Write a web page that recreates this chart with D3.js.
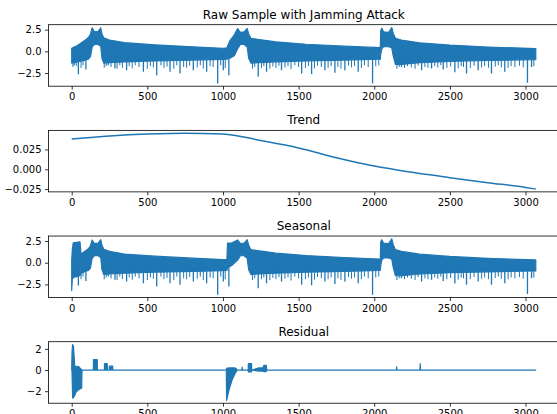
<!DOCTYPE html>
<html>
<head>
<meta charset="utf-8">
<script src="https://cdn.jsdelivr.net/npm/d3@7"></script>
<style>
  body { margin: 0; background: #fff; }
  svg text { font-family: "DejaVu Sans", sans-serif; fill: #000; }
</style>
</head>
<body>
<svg id="chart" width="557" height="414"></svg>
<script>
// x ticks shared by all four panels
const xTicks = [0, 500, 1000, 1500, 2000, 2500, 3000];
const lastSample = 3068;

// Raw sample: dense signal read as its upper/lower envelope at these sample indices
const rawX = [0, 30, 55, 90, 110, 124, 135, 150, 175, 192, 200, 212, 250, 350, 550, 800, 1000, 1025, 1045, 1075,
  1097, 1115, 1140, 1160, 1170, 1185, 1350, 1550, 1800, 2040, 2043, 2050, 2062, 2095, 2116, 2125, 2140, 2180, 2300, 2500,
  2750, 3068];
const rawUpper = [0.35, 0.6, 0.87, 1.3, 1.6, 1.95, 2.72, 2.25, 2.3, 2.72, 2.0, 1.55, 1.3, 1.0, 0.75, 0.52, 0.36, 0.4, 1.2, 1.9,
  2.62, 2.2, 2.25, 2.65, 2.0, 1.5, 1.1, 0.82, 0.6, 0.42, 2.4, 2.65, 2.25, 2.2, 2.75, 2.1, 1.5, 1.3, 0.98, 0.72,
  0.5, 0.32];
const rawLower = [-1.35, -1.25, -1.15, -1.0, -0.9, -0.6, 0.5, 0.8, 0.8, 0.6, -0.8, -1.35, -1.3, -1.2, -1.1, -1.0, -0.92, -0.9, -0.8, -0.5,
  0.3, 0.8, 0.8, 0.5, -0.8, -1.35, -1.2, -1.1, -1.0, -0.9, -0.3, 0.3, 0.55, 0.55, 0.4, -0.5, -1.5, -1.5, -1.3, -1.15,
  -1.05, -0.95];

// long downward spikes below the body (raw and seasonal share them)
const spikeX = [17, 44, 94, 242, 286, 363, 474, 562, 650, 716, 804, 892, 965, 1002, 1039, 1233, 1288, 1387, 1520, 1586,
  1674, 1740, 1806, 1894, 1989, 2180, 2313, 2379, 2456, 2533, 2610, 2687, 2775, 2863, 3013, 3040];
const spikeLow = [-1.6, -2.63, -2.1, -1.6, -1.97, -2.17, -2.36, -2.74, -2.36, -2.55, -2.17, -2.36, -3.69, -2.17, -2.74, -2.93, -2.36, -2.17, -2.55, -2.6,
  -2.17, -2.45, -2.17, -2.36, -3.69, -1.8, -2.17, -1.97, -2.1, -2.4, -2.55, -2.17, -2.55, -2.36, -3.61, -1.8];

// shorter spikes making the ragged lower fringe
const fringeX = [8, 30, 62, 75, 215, 228, 260, 300, 318, 335, 380, 400, 420, 445, 500, 520, 540, 590, 610, 630,
  675, 695, 740, 760, 780, 830, 850, 870, 915, 935, 985, 1015, 1195, 1210, 1255, 1270, 1310, 1330, 1350, 1370,
  1410, 1430, 1450, 1475, 1500, 1545, 1565, 1605, 1625, 1650, 1695, 1715, 1760, 1780, 1830, 1850, 1870, 1915, 1935, 1960,
  2010, 2030, 2150, 2165, 2200, 2220, 2245, 2270, 2290, 2335, 2355, 2400, 2420, 2440, 2480, 2505, 2555, 2575, 2590, 2635,
  2660, 2710, 2730, 2755, 2800, 2820, 2840, 2885, 2905, 2930, 2960, 2985, 3055];
const fringeLow = [-1.8, -1.7, -1.9, -1.6, -1.9, -1.7, -1.8, -2.0, -1.6, -1.9, -1.7, -1.95, -1.6, -1.8, -2.0, -1.7, -1.85, -1.6, -1.9, -1.75,
  -2.0, -1.6, -1.8, -1.9, -1.65, -1.85, -1.6, -2.0, -1.7, -1.8, -1.6, -1.9, -2.0, -1.8, -1.9, -1.7, -2.0, -1.75, -1.9, -1.65,
  -1.85, -1.7, -2.05, -1.6, -1.8, -1.9, -1.7, -1.95, -1.65, -1.8, -1.9, -1.7, -1.8, -2.0, -1.65, -1.85, -1.7, -1.9, -1.6, -1.8,
  -1.7, -1.6, -2.0, -1.8, -1.9, -1.7, -1.85, -2.0, -1.65, -1.8, -1.9, -1.7, -1.85, -1.6, -1.9, -1.75, -1.95, -1.7, -1.8, -1.9,
  -1.65, -1.85, -1.7, -1.9, -1.75, -1.6, -1.85, -1.9, -1.7, -1.8, -1.65, -1.85, -1.7];

// Trend
const trendX = [0, 250, 500, 750, 1000, 1250, 1500, 1750, 2000, 2250, 2500, 2750, 3000, 3068];
const trendY = [0.0381, 0.0418, 0.0443, 0.0455, 0.0446, 0.0362, 0.0268, 0.0146, 0.0040, -0.0039, -0.0106, -0.0169, -0.0229, -0.0250];

// Seasonal envelope
const seasX = [0, 4, 10, 55, 62, 90, 110, 124, 135, 150, 175, 192, 200, 212, 250, 350, 550, 800, 1000, 1026,
  1030, 1060, 1097, 1115, 1140, 1160, 1170, 1185, 1350, 1550, 1800, 2040, 2043, 2050, 2062, 2095, 2116, 2125, 2140, 2180,
  2300, 2500, 2750, 3068];
const seasUpper = [0.3, 1.5, 2.3, 2.4, 1.0, 1.35, 1.6, 1.95, 2.62, 2.2, 2.25, 2.65, 2.0, 1.55, 1.3, 1.0, 0.75, 0.52, 0.36, 0.4,
  2.25, 2.3, 2.62, 2.2, 2.25, 2.65, 2.0, 1.5, 1.1, 0.82, 0.6, 0.42, 2.4, 2.65, 2.25, 2.2, 2.75, 2.1, 1.5, 1.3,
  0.98, 0.72, 0.5, 0.32];
const seasLower = [-3.2, -1.9, -1.7, -1.5, -1.2, -1.0, -0.9, -0.6, 0.5, 0.8, 0.8, 0.6, -0.8, -1.35, -1.3, -1.2, -1.1, -1.0, -0.92, -0.9,
  -0.6, -0.3, 0.3, 0.8, 0.8, 0.5, -0.8, -1.35, -1.2, -1.1, -1.0, -0.9, -0.3, 0.3, 0.55, 0.55, 0.4, -0.5, -1.5, -1.5,
  -1.3, -1.15, -1.05, -0.95];

// Residual envelope
const resX = [0, 2, 6, 12, 20, 28, 45, 60, 66, 68, 143, 144, 169, 170, 216, 217, 235, 236, 248, 249,
  271, 272, 1022, 1024, 1040, 1060, 1080, 1090, 1092, 1125, 1127, 1129, 1167, 1168, 1189, 1190, 1238, 1264, 1271, 1286,
  1290, 2146, 2148, 2150, 2302, 2304, 2306, 3068];
const resUpper = [0, 1.67, 2.41, 2.2, 0.4, 0.3, 0.35, 0.1, 0.05, 0, 0, 0.98, 0.98, 0, 0, 0.6, 0.6, 0, 0, 0.36,
  0.36, 0, 0, 0.15, 0.2, 0.2, 0.2, 0.1, 0, 0, 0.28, 0, 0, 0.6, 0.6, 0, 0.2, 0.2, 0.45, 0.45,
  0, 0, 0.3, 0, 0, 0.6, 0, 0];
const resLower = [0, -0.1, -2.65, -2.6, -2.4, -2.1, -1.87, -1.75, -1.7, 0, 0, 0, 0, 0, 0, 0, 0, 0, 0, 0,
  0, 0, 0, -2.87, -1.88, -0.95, -0.33, -0.1, 0, 0, 0, 0, 0, -0.18, -0.18, 0, -0.1, -0.1, -0.15, -0.15,
  0, 0, 0, 0, 0, 0, 0, 0];

const signalTicks = [-2.5, 0, 2.5];
const trendTicks = [-0.025, 0, 0.025];
const residualTicks = [-2, 0, 2];

const svg = d3.select("#chart");
const blue = "#1f77b4";
const left = 48.5, right = 559;
const panelTop = 24.7, panelH = 61.5, panelStep = 105.67;

// matplotlib-like 5% margins
const x = d3.scaleLinear()
  .domain([-0.05 * lastSample, 1.05 * lastSample])
  .range([left, right]);

function padded(vals) {
  const [lo, hi] = d3.extent(vals);
  const m = (hi - lo) * 0.05;
  return [lo - m, hi + m];
}

function addSpikes(plot, y, xs, lows, width) {
  plot.append("g")
    .selectAll("line")
    .data(xs.map((d, i) => ({ x: d, v: lows[i] })))
    .enter()
    .append("line")
    .attr("x1", d => x(d.x))
    .attr("x2", d => x(d.x))
    .attr("y1", y(-0.5))
    .attr("y2", d => y(d.v))
    .attr("stroke", blue)
    .attr("stroke-width", width);
}

// filled band between the envelopes + the spikes hanging under it
function drawBand(xs, ups, lows, withSpikes) {
  return function (plot, y) {
    const pts = xs.map((d, i) => ({ x: d, u: ups[i], l: lows[i] }));
    const area = d3.area().x(d => x(d.x)).y0(d => y(d.l)).y1(d => y(d.u));
    plot.append("path")
      .attr("d", area(pts))
      .attr("fill", blue)
      .attr("stroke", blue)
      .attr("stroke-width", 1.2)
      .attr("stroke-linejoin", "round");
    if (withSpikes) {
      addSpikes(plot, y, fringeX, fringeLow, 1.0);
      addSpikes(plot, y, spikeX, spikeLow, 1.3);
    }
  };
}

function panel(i, title, vals, yTicks, fmt, draw) {
  const top = panelTop + i * panelStep, bottom = top + panelH;
  const y = d3.scaleLinear().domain(padded(vals)).range([bottom, top]);
  const g = svg.append("g");

  g.append("clipPath").attr("id", "clip" + i)
    .append("rect")
    .attr("x", left).attr("y", top)
    .attr("width", right - left).attr("height", panelH);

  draw(g.append("g").attr("clip-path", `url(#clip${i})`), y);

  g.append("rect")
    .attr("x", left).attr("y", top)
    .attr("width", right - left).attr("height", panelH)
    .attr("fill", "none").attr("stroke", "#000").attr("stroke-width", 0.8);

  const xa = g.append("g")
    .attr("transform", `translate(0,${bottom})`)
    .call(d3.axisBottom(x).tickValues(xTicks).tickSize(3.5).tickPadding(3.5).tickFormat(d3.format("d")));
  const ya = g.append("g")
    .attr("transform", `translate(${left},0)`)
    .call(d3.axisLeft(y).tickValues(yTicks).tickSize(3.5).tickPadding(3.5).tickFormat(d3.format(fmt)));

  [xa, ya].forEach(a => {
    a.select(".domain").remove();
    a.attr("font-family", "DejaVu Sans, sans-serif").attr("font-size", 10);
    a.selectAll("line").attr("stroke", "#000").attr("stroke-width", 0.8);
    a.selectAll("text").attr("fill", "#000");
  });

  g.append("text")
    .attr("x", (left + right) / 2)
    .attr("y", top - 6)
    .attr("text-anchor", "middle")
    .attr("font-size", 12)
    .text(title);
}

panel(0, "Raw Sample with Jamming Attack", rawUpper.concat(rawLower, spikeLow), signalTicks, ".1f",
  drawBand(rawX, rawUpper, rawLower, true));

panel(1, "Trend", trendY, trendTicks, ".3f", function (plot, y) {
  const line = d3.line().x((d, i) => x(trendX[i])).y(d => y(d)).curve(d3.curveMonotoneX);
  plot.append("path")
    .attr("d", line(trendY))
    .attr("fill", "none")
    .attr("stroke", blue)
    .attr("stroke-width", 1.5);
});

panel(2, "Seasonal", seasUpper.concat(seasLower, spikeLow), signalTicks, ".1f",
  drawBand(seasX, seasUpper, seasLower, true));

panel(3, "Residual", resUpper.concat(resLower), residualTicks, "d",
  drawBand(resX, resUpper, resLower, false));
</script>
</body>
</html>
